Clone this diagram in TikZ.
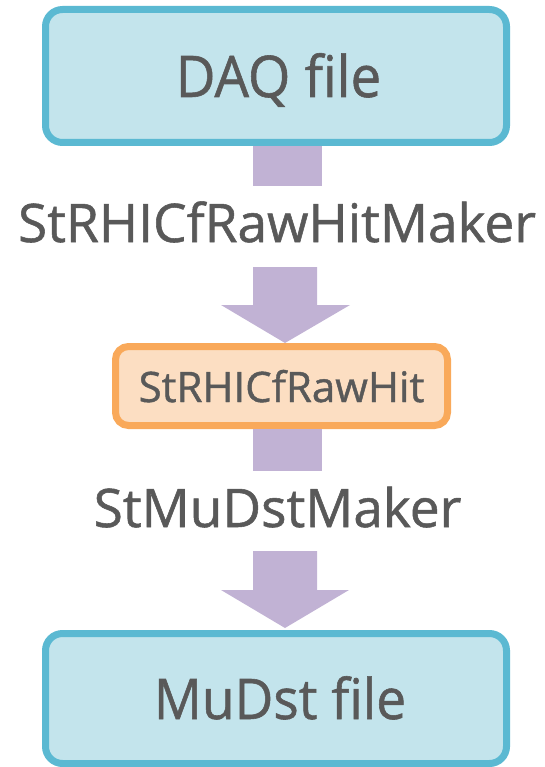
\documentclass[tikz,border=0pt]{standalone}
\usepackage{fontspec}
\setmainfont[FakeBold=1]{Open Sans}
\definecolor{fileline}{HTML}{5BB9D2}
\definecolor{filefill}{HTML}{C3E4EC}
\definecolor{hitline}{HTML}{F9A95A}
\definecolor{hitfill}{HTML}{FCDEC2}
\definecolor{flow}{HTML}{C1B2D4}
\definecolor{ink}{HTML}{595959}
\tikzset{
  filebox/.style={draw=fileline, fill=filefill, line width=7pt, rounded corners=17pt,
    minimum width=461pt, inner sep=0pt},
  hitbox/.style={draw=hitline, fill=hitfill, line width=7pt, rounded corners=13pt,
    minimum width=332pt, minimum height=79pt, inner sep=0pt},
  label/.style={text=ink, anchor=base, inner sep=0pt},
  flowfill/.style={fill=flow, draw=none},
}
\newcommand{\narrow}[1]{\scalebox{0.95}[1]{#1}}
\begin{document}
\begin{tikzpicture}[x=1pt,y=-1pt]
\useasboundingbox (0,0) rectangle (545,767);
% boxes
\node[filebox, minimum height=133pt] (daq) at (276,76) {};
\node[hitbox] (hit) at (281.5,386) {};
\node[filebox, minimum height=130pt] (mudst) at (276,698.5) {};
% labels
\node[label, font=\fontsize{57.4}{58}\selectfont] (daqt) at (278.5,97) {\narrow{DAQ file}};
\node[label, font=\fontsize{53.2}{54}\selectfont] (rawmaker) at (277,242) {StRHICfRawHitMaker};
\node[label, font=\fontsize{42}{42}\selectfont] (hitt) at (281.5,402) {StRHICfRawHit};
\node[label, font=\fontsize{53.2}{54}\selectfont] (mumaker) at (277.5,527) {StMuDstMaker};
\node[label, font=\fontsize{56}{56}\selectfont] (mudstt) at (280,719) {\narrow{MuDst file}};
% flow: stem below the DAQ box
\fill[flowfill] (253,146) rectangle (322,186);
% flow: block arrow into the raw-hit box
\fill[flowfill] (253,267) -- (317,267) -- (317,305) -- (350,305) -- (285,343)
  -- (221,305) -- (253,305) -- cycle;
% flow: stem below the raw-hit box
\fill[flowfill] (253,429) rectangle (322,471);
% flow: block arrow into the MuDst box
\fill[flowfill] (253,551) -- (317,551) -- (317,590) -- (349,590) -- (285,628)
  -- (221,590) -- (253,590) -- cycle;
\end{tikzpicture}
\end{document}
